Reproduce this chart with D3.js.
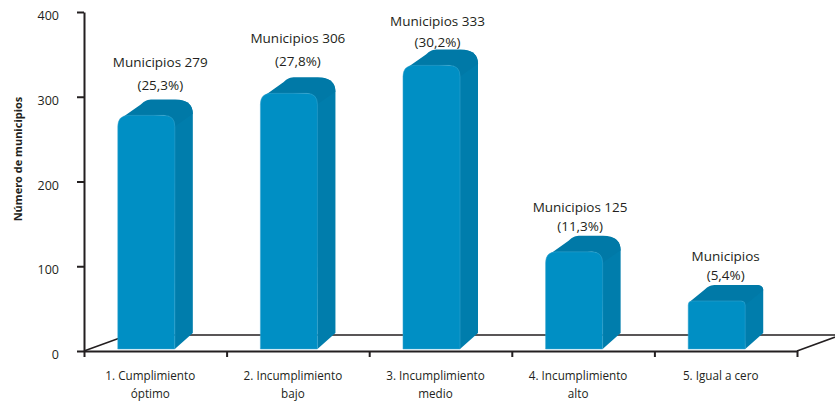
<!DOCTYPE html>
<html>
<head>
<meta charset="utf-8">
<script src="https://cdn.jsdelivr.net/npm/d3@7"></script>
<style>
    html, body { margin: 0; padding: 0; background: #fff; }
    svg { display: block; }
    text { font-family: "Open Sans", sans-serif; fill: #231f20; }
</style>
</head>
<body>
<svg id="chart"></svg>
<script>
var categoryLines = [
    ["1. Cumplimiento", "óptimo"],
    ["2. Incumplimiento", "bajo"],
    ["3. Incumplimiento", "medio"],
    ["4. Incumplimiento", "alto"],
    ["5. Igual a cero"]
];
// bar heights as drawn against the axis, the printed labels differ slightly
var barValues = [278, 304, 337, 117, 59];
var labelCounts = ["Municipios 279", "Municipios 306", "Municipios 333", "Municipios 125", "Municipios"];
var labelShares = ["(25,3%)", "(27,8%)", "(30,2%)", "(11,3%)", "(5,4%)"];
var yTicks = [0, 100, 200, 300, 400];
var yTitle = "Número de municipios";

var width = 835, height = 401;
var plot = {left: 84, right: 797, top: 12, bottom: 351};
var depth = {x: 18, y: 16};
var floorDepth = {x: 44, y: 16};
var labelLift = [48, 50, 39, 40, 40];
var labelGap = [23, 23, 21, 19, 19];
var labelShift = [5, 0, -3, -3, 0];

var colors = {front: "#008fc4", side: "#007dac", top: "#0079a7", rim: "#3aa6d0", axis: "#231f20"};

var svg = d3.select("#chart").attr("width", width).attr("height", height);

var x = d3.scaleBand()
    .domain(d3.range(barValues.length))
    .range([plot.left, plot.right])
    .paddingInner(0.6)
    .paddingOuter(0.3);
var y = d3.scaleLinear().domain([0, 400]).range([plot.bottom, plot.top]);
var xEdges = d3.scaleLinear().domain([0, barValues.length]).range([plot.left, plot.right]);

// floor, sits behind the bars
var floorY = plot.bottom - floorDepth.y;
svg.append("path")
    .attr("d", d3.line()([
        [plot.left, plot.bottom],
        [plot.left + floorDepth.x, floorY],
        [plot.right + floorDepth.x, floorY],
        [plot.right, plot.bottom]
    ]))
    .attr("fill", "none")
    .attr("stroke", colors.axis)
    .attr("stroke-width", 1.6);

// bars
var bars = svg.append("g").selectAll("g")
    .data(barValues)
    .enter().append("g")
    .attr("transform", function(d, i) { return "translate(" + (x(i) - depth.x / 2) + ",0)"; });

var barBottom = plot.bottom - 2;
var w = x.bandwidth();

function radius(d) {
    return d > 100 ? 11 : 4;
}

bars.append("path")
    .attr("fill", colors.side)
    .attr("d", function(d) {
        var t = y(d), r = radius(d);
        var backX = w + depth.x, backY = t - depth.y;
        return "M" + (w - 1) + "," + (t + 4) +
            "L" + (backX - r * 1.6) + "," + (backY + 1) +
            "C" + (backX - r * 0.5) + "," + backY + " " + backX + "," + (backY + r * 0.5) + " " + backX + "," + (backY + r * 1.3) +
            "L" + backX + "," + (barBottom - depth.y) +
            "L" + w + "," + barBottom + "Z";
    });

bars.append("path")
    .attr("fill", colors.top)
    .attr("d", function(d) {
        var t = y(d), r = radius(d);
        var backX = w + depth.x, backY = t - depth.y;
        return "M" + (r * 0.4) + "," + (t + r * 0.2) +
            "L" + (depth.x + r - 6) + "," + (backY + 5) +
            "C" + (depth.x + r - 2) + "," + (backY + 1) + " " + (depth.x + r + 1) + "," + backY + " " + (depth.x + r + 6) + "," + backY +
            "L" + (backX - r * 1.6) + "," + backY +
            "C" + (backX - r * 0.5) + "," + backY + " " + backX + "," + (backY + r * 0.5) + " " + backX + "," + (backY + r * 1.3) +
            "L" + w + "," + (t + r) +
            "Q" + (w - 2) + "," + t + " " + (w - r) + "," + t + "Z";
    });

bars.append("path")
    .attr("fill", colors.front)
    .attr("stroke", colors.rim)
    .attr("stroke-width", 0.5)
    .attr("d", function(d) {
        var t = y(d), r = radius(d);
        return "M0," + barBottom +
            "L0," + (t + r) +
            "Q0," + t + " " + r + "," + t +
            "L" + (w - r) + "," + t +
            "Q" + w + "," + t + " " + w + "," + (t + r) +
            "L" + w + "," + barBottom + "Z";
    });

// labels over the bars
var labels = svg.append("g").selectAll("text")
    .data(barValues)
    .enter().append("text")
    .attr("text-anchor", "middle")
    .attr("font-size", 13.5);

labels.append("tspan")
    .attr("x", function(d, i) { return x(i) + w / 2 + labelShift[i]; })
    .attr("y", function(d, i) { return y(d) - labelLift[i]; })
    .text(function(d, i) { return labelCounts[i]; });

labels.append("tspan")
    .attr("x", function(d, i) { return x(i) + w / 2 + labelShift[i]; })
    .attr("y", function(d, i) { return y(d) - labelLift[i] + labelGap[i]; })
    .text(function(d, i) { return labelShares[i]; });

// axes
var yAxis = svg.append("g")
    .attr("transform", "translate(" + plot.left + ",0)")
    .call(d3.axisLeft(y).tickValues(yTicks).tickSize(7).tickPadding(18).tickSizeOuter(0));

yAxis.selectAll("text").attr("font-size", 12.5).attr("dy", "0.6em").style("font-family", "'Open Sans', sans-serif");

var xAxis = svg.append("g")
    .attr("transform", "translate(0," + plot.bottom + ")")
    .call(d3.axisBottom(xEdges).tickValues(d3.range(barValues.length + 1)).tickSize(6).tickSizeOuter(0).tickFormat(""));

svg.selectAll(".domain, .tick line")
    .attr("stroke", colors.axis)
    .attr("stroke-width", 2);

// category labels
var catLabels = svg.append("g").selectAll("text")
    .data(categoryLines)
    .enter().append("text")
    .attr("text-anchor", "middle")
    .attr("font-size", 11.7);

catLabels.selectAll("tspan")
    .data(function(d, i) { return d.map(function(line) { return {line: line, i: i}; }); })
    .enter().append("tspan")
    .attr("x", function(d) { return x(d.i) + w / 2 - 5; })
    .attr("y", function(d, j) { return 380 + j * 18; })
    .text(function(d) { return d.line; });

svg.append("text")
    .attr("transform", "translate(22,159) rotate(-90)")
    .attr("text-anchor", "middle")
    .attr("font-size", 11)
    .attr("font-weight", "bold")
    .text(yTitle);
</script>
</body>
</html>
